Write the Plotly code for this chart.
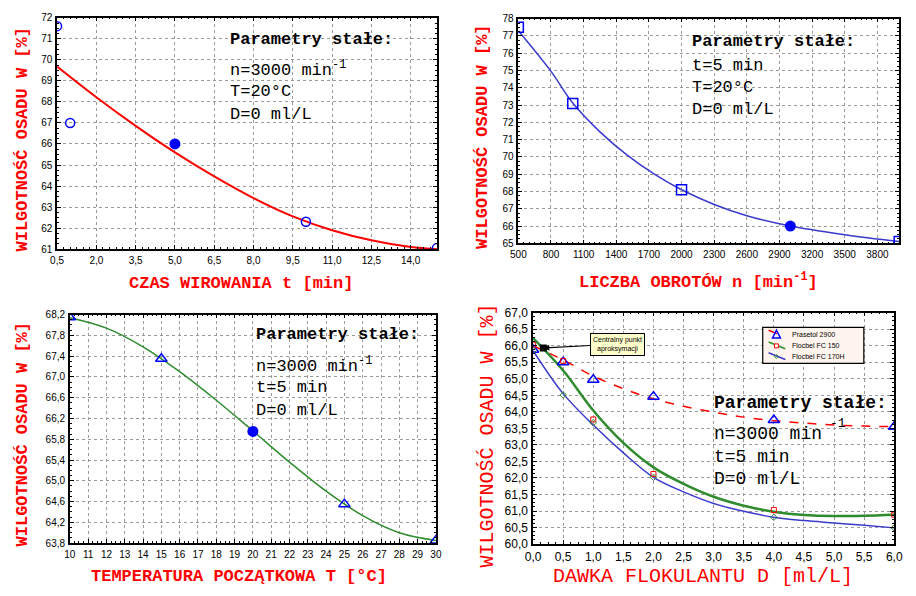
import plotly.graph_objects as go

W, H = 916, 596

# ---------- Data ----------
# Panel 1: time of centrifugation
p1_pts_x = [0.5, 1.0, 10.0, 15.0]
p1_pts_y = [71.6, 67.0, 62.3, 61.05]
p1_ctr_x = [5.0]
p1_ctr_y = [66.0]
p1_fit_x = [0.5, 2.0, 3.5, 5.0, 6.5, 8.0, 9.5, 11.0, 12.5, 14.0, 15.0]
p1_fit_y = [69.68, 68.22, 66.86, 65.6, 64.46, 63.43, 62.56, 61.9, 61.42, 61.1, 61.0]

# Panel 2: rotational speed
p2_pts_x = [500, 1000, 2000, 4000]
p2_pts_y = [77.5, 73.1, 68.1, 65.1]
p2_ctr_x = [3000]
p2_ctr_y = [66.0]
p2_fit_x = [500, 800, 1000, 1250, 1500, 1750, 2000, 2300, 2600, 3000, 3500, 4000]
p2_fit_y = [77.3, 74.95, 73.12, 71.45, 70.1, 69.0, 68.1, 67.25, 66.6, 66.0, 65.5, 65.1]

# Panel 3: initial temperature
p3_pts_x = [10, 15, 25, 30]
p3_pts_y = [68.15, 67.35, 64.55, 63.85]
p3_ctr_x = [20]
p3_ctr_y = [65.95]
p3_fit_x = [10, 12, 14, 16, 18, 20, 22, 24, 26, 28, 30]
p3_fit_y = [68.14, 67.94, 67.58, 67.10, 66.55, 65.96, 65.36, 64.80, 64.33, 64.0, 63.85]

# Panel 4: flocculant dose
dose = [0, 0.5, 1, 2, 4, 6]
pras_y = [65.88, 65.5, 64.97, 64.46, 63.75, 63.55]
fc150_y = [66.03, 65.54, 63.77, 62.12, 61.03, 60.89]
fc170_y = [65.85, 64.51, 63.67, 62.02, 60.81, 60.49]
fit_x = [0, 0.5, 1, 1.5, 2, 2.5, 3, 3.5, 4, 4.5, 5, 5.5, 6]
pras_fit = [66.0, 65.57, 65.08, 64.7, 64.39, 64.17, 63.99, 63.84, 63.73, 63.66, 63.6, 63.57, 63.55]
fc150_fit = [66.23, 65.25, 64.04, 63.06, 62.32, 61.82, 61.43, 61.16, 60.98, 60.88, 60.85, 60.86, 60.89]
fc170_fit = [65.85, 64.55, 63.6, 62.76, 62.02, 61.58, 61.23, 60.99, 60.81, 60.71, 60.64, 60.57, 60.49]
central_x = [0.17]
central_y = [65.93]
legend_names = ["Prasetol 2900", "Flocbel FC 150", "Flocbel FC 170H"]

RED = "#ff0000"
BLUE = "#0000ff"
P2LINE = "#3a3acc"
GREEN = "#2e8b2e"

def px(x):
    return x / W

def py(y):
    return 1 - y / H

fig = go.Figure()

# Panel 1
fig.add_trace(go.Scatter(x=p1_fit_x, y=p1_fit_y, mode="lines", line=dict(color=RED, width=2, shape="spline"),
                         xaxis="x", yaxis="y", showlegend=False))
fig.add_trace(go.Scatter(x=p1_pts_x, y=p1_pts_y, mode="markers",
                         marker=dict(symbol="circle-open", size=9, color=BLUE, line=dict(width=1.5)),
                         xaxis="x", yaxis="y", showlegend=False))
fig.add_trace(go.Scatter(x=p1_ctr_x, y=p1_ctr_y, mode="markers", marker=dict(symbol="circle", size=11, color=BLUE),
                         xaxis="x", yaxis="y", showlegend=False))

# Panel 2
fig.add_trace(go.Scatter(x=p2_fit_x, y=p2_fit_y, mode="lines", line=dict(color=P2LINE, width=1.5, shape="spline"),
                         xaxis="x2", yaxis="y2", showlegend=False))
fig.add_trace(go.Scatter(x=p2_pts_x, y=p2_pts_y, mode="markers",
                         marker=dict(symbol="square-open", size=10, color=BLUE, line=dict(width=1.5)),
                         xaxis="x2", yaxis="y2", showlegend=False))
fig.add_trace(go.Scatter(x=p2_ctr_x, y=p2_ctr_y, mode="markers", marker=dict(symbol="circle", size=11, color=BLUE),
                         xaxis="x2", yaxis="y2", showlegend=False))

# Panel 3
fig.add_trace(go.Scatter(x=p3_fit_x, y=p3_fit_y, mode="lines", line=dict(color=GREEN, width=1.5, shape="spline"),
                         xaxis="x3", yaxis="y3", showlegend=False))
fig.add_trace(go.Scatter(x=p3_pts_x, y=p3_pts_y, mode="markers",
                         marker=dict(symbol="triangle-up-open", size=10, color=BLUE, line=dict(width=1.5)),
                         xaxis="x3", yaxis="y3", showlegend=False))
fig.add_trace(go.Scatter(x=p3_ctr_x, y=p3_ctr_y, mode="markers", marker=dict(symbol="circle", size=11, color=BLUE),
                         xaxis="x3", yaxis="y3", showlegend=False))

# Panel 4
fig.add_trace(go.Scatter(x=fit_x, y=pras_fit, mode="lines", line=dict(color=RED, width=1.5, dash="dash", shape="spline"),
                         xaxis="x4", yaxis="y4", showlegend=False))
fig.add_trace(go.Scatter(x=fit_x, y=fc150_fit, mode="lines", line=dict(color=GREEN, width=2.5, shape="spline"),
                         xaxis="x4", yaxis="y4", showlegend=False))
fig.add_trace(go.Scatter(x=fit_x, y=fc170_fit, mode="lines", line=dict(color=P2LINE, width=1.5, shape="spline"),
                         xaxis="x4", yaxis="y4", showlegend=False))
fig.add_trace(go.Scatter(x=dose, y=pras_y, mode="markers",
                         marker=dict(symbol="triangle-up-open", size=10, color=BLUE, line=dict(width=1.5)),
                         xaxis="x4", yaxis="y4", showlegend=False))
fig.add_trace(go.Scatter(x=dose, y=fc150_y, mode="markers",
                         marker=dict(symbol="square-open", size=5, color=RED, line=dict(width=1)),
                         xaxis="x4", yaxis="y4", showlegend=False))
fig.add_trace(go.Scatter(x=dose, y=fc170_y, mode="markers",
                         marker=dict(symbol="diamond-open", size=5, color=GREEN, line=dict(width=1)),
                         xaxis="x4", yaxis="y4", showlegend=False))
fig.add_trace(go.Scatter(x=central_x, y=central_y, mode="markers",
                         marker=dict(symbol="square", size=7, color="black"),
                         xaxis="x4", yaxis="y4", showlegend=False))

tickfont_s = dict(family="Liberation Sans", size=10, color="black")
tickfont_l = dict(family="Liberation Sans", size=12, color="black")

def ax(domain, rng, tick0, dtick, fmt=None, font=tickfont_s, anchor=None, minor_dtick=None):
    d = dict(domain=domain, range=rng, tick0=tick0, dtick=dtick, showgrid=True,
             gridcolor="#9a9a9a", griddash="dot", gridwidth=1,
             showline=True, mirror="ticks", linecolor="black", linewidth=1.5,
             ticks="inside", ticklen=4, tickcolor="black", tickfont=font, zeroline=False,
             anchor=anchor, ticklabelstandoff=1)
    if fmt:
        d["tickformat"] = fmt
    if minor_dtick:
        d["minor"] = dict(dtick=minor_dtick, ticks="inside", ticklen=2, tickcolor="black", showgrid=False)
    return d

layout = dict(
    width=W, height=H, margin=dict(l=0, r=0, t=0, b=0),
    paper_bgcolor="white", plot_bgcolor="white", separators=", ",
    showlegend=False,
)
layout["xaxis"] = ax([px(50), px(437)], [0.5, 15.0], 0.5, 1.5, ".1f", anchor="y", minor_dtick=0.25)
layout["yaxis"] = ax([py(248), py(11)], [61, 72], 61, 1, anchor="x", minor_dtick=0.25)
layout["xaxis2"] = ax([px(520), px(908)], [500, 4000], 500, 300, anchor="y2", minor_dtick=50)
layout["yaxis2"] = ax([py(242), py(12)], [65, 78], 65, 1, anchor="x2", minor_dtick=0.25)
layout["xaxis3"] = ax([px(63), px(436)], [10, 30], 10, 1, anchor="y3", minor_dtick=0.25)
layout["yaxis3"] = ax([py(549), py(315)], [63.8, 68.2], 63.8, 0.4, ".1f", anchor="x3", minor_dtick=0.1)
layout["xaxis4"] = ax([px(535), px(903)], [0, 6], 0, 0.5, ".1f", font=tickfont_l, anchor="y4", minor_dtick=0.125)
layout["yaxis4"] = ax([py(550), py(313)], [60, 67], 60, 0.5, ".1f", font=tickfont_l, anchor="x4", minor_dtick=0.125)
fig.update_layout(**layout)

ann = []
shapes = []
MONO = "Liberation Mono"
title_font = dict(family=MONO, size=17, color=RED)
title_font4 = dict(family=MONO, size=20, color=RED)

def t(x, y, text, font, angle=0, xanchor="center"):
    ann.append(dict(x=px(x), y=py(y), xref="paper", yref="paper", text=text, showarrow=False,
                    font=font, textangle=angle, xanchor=xanchor, yanchor="middle", borderpad=0))

# axis titles
t(237, 283, "<b>CZAS WIROWANIA t [min]</b>", title_font)
t(15, 136, "<b>WILGOTNOŚĆ OSADU W [%]</b>", title_font, angle=-90)
t(704, 281, "<b>LICZBA OBROTÓW n [min<sup>-1</sup>]</b>", title_font)
t(484, 133, "<b>WILGOTNOŚĆ OSADU W [%]</b>", title_font, angle=-90)
t(235, 583, "<b>TEMPERATURA POCZĄTKOWA T [°C]</b>", title_font)
t(15, 438, "<b>WILGOTNOŚĆ OSADU W [%]</b>", title_font, angle=-90)
t(708, 583, "DAWKA FLOKULANTU D [ml/L]", title_font4)
t(489, 439, "WILGOTNOŚĆ OSADU W [%]", title_font4, angle=-90)

pf_b = dict(family=MONO, size=17, color="black")
pf = dict(family=MONO, size=17, color="black")
pf4 = dict(family=MONO, size=18, color="black")

# parameter boxes
t(225, 33, "<b>Parametry stałe:</b>", pf_b, xanchor="left")
t(225, 63, "n=3000 min<sup>-1</sup>", pf, xanchor="left")
t(225, 87, "T=20°C", pf, xanchor="left")
t(225, 110, "D=0 ml/L", pf, xanchor="left")

t(696, 35, "<b>Parametry stałe:</b>", pf_b, xanchor="left")
t(696, 60, "t=5 min", pf, xanchor="left")
t(696, 82, "T=20°C", pf, xanchor="left")
t(696, 105, "D=0 ml/L", pf, xanchor="left")

t(252, 335, "<b>Parametry stałe:</b>", pf_b, xanchor="left")
t(252, 367, "n=3000 min<sup>-1</sup>", pf, xanchor="left")
t(252, 390, "t=5 min", pf, xanchor="left")
t(252, 413, "D=0 ml/L", pf, xanchor="left")

t(718, 406, "<b>Parametry stałe:</b>", pf4, xanchor="left")
t(718, 437, "n=3000 min", pf4, xanchor="left")
t(837, 427, "-1", dict(family=MONO, size=13, color="black"), xanchor="left")
t(718, 461, "t=5 min", pf4, xanchor="left")
t(718, 483, "D=0 ml/L", pf4, xanchor="left")

# central point callout
ann.append(dict(x=central_x[0], y=central_y[0], xref="x4", yref="y4",
                text="Centralny punkt<br>aproksymacji", showarrow=True, arrowhead=2, arrowsize=1,
                arrowwidth=1.2, arrowcolor="black", ax=74, ay=-4, bgcolor="#ffffcc", bordercolor="black",
                borderwidth=1, borderpad=2, font=dict(family="Liberation Sans", size=7, color="black")))

# hand-drawn compact legend (panel 4)
shapes.append(dict(type="rect", xref="paper", yref="paper", x0=px(769), x1=px(872), y0=py(365), y1=py(328),
                   fillcolor="#fff5ee", line=dict(color="black", width=1.2), layer="above"))
leg_rows = [335, 347, 358]
leg_line_cols = [RED, GREEN, P2LINE]
leg_line_dash = ["dash", "solid", "solid"]
for name, yrow, lc, ld in zip(legend_names, leg_rows, leg_line_cols, leg_line_dash):
    shapes.append(dict(type="line", xref="paper", yref="paper", x0=px(775), x1=px(792),
                       y0=py(yrow - 4), y1=py(yrow + 3), line=dict(color=lc, width=1.5, dash=ld), layer="above"))
    ann.append(dict(x=px(798), y=py(yrow), xref="paper", yref="paper", text=name, showarrow=False,
                    xanchor="left", yanchor="middle", borderpad=0,
                    font=dict(family="Liberation Sans", size=7, color="black")))
# legend marker glyphs
shapes.append(dict(type="path", xref="paper", yref="paper",
                   path=f"M {px(779)} {py(339)} L {px(787)} {py(339)} L {px(783)} {py(331)} Z",
                   line=dict(color=BLUE, width=1.5), fillcolor="rgba(0,0,0,0)", layer="above"))
shapes.append(dict(type="rect", xref="paper", yref="paper", x0=px(781), x1=px(785), y0=py(349), y1=py(345),
                   line=dict(color=RED, width=1), fillcolor="white", layer="above"))
shapes.append(dict(type="path", xref="paper", yref="paper",
                   path=f"M {px(783)} {py(356)} L {px(785)} {py(358)} L {px(783)} {py(360)} L {px(781)} {py(358)} Z",
                   line=dict(color=GREEN, width=1), fillcolor="rgba(0,0,0,0)", layer="above"))

fig.update_layout(annotations=ann, shapes=shapes)
fig.write_html("out.html")
